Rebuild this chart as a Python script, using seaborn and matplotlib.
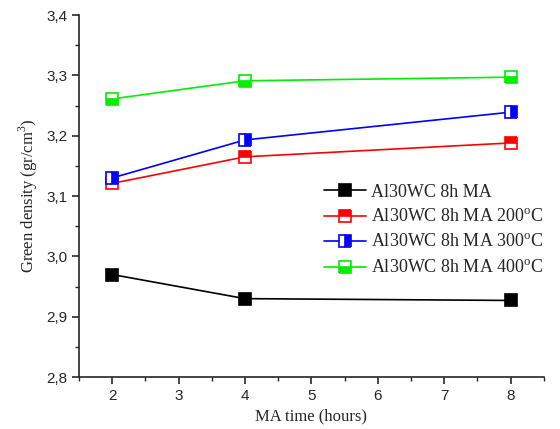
import numpy as np
import pandas as pd
import matplotlib
matplotlib.use('Agg')
import matplotlib.pyplot as plt
import seaborn as sns
from matplotlib.ticker import MultipleLocator, FuncFormatter

# data
ma_time = [2, 4, 8]
d_plain = [2.970, 2.930, 2.927]
d_200 = [3.121, 3.165, 3.188]
d_300 = [3.130, 3.193, 3.239]
d_400 = [3.261, 3.291, 3.297]
labels = ['Al30WC 8h MA', 'Al30WC 8h MA 200$^{\\rm o}$C',
          'Al30WC 8h MA 300$^{\\rm o}$C', 'Al30WC 8h MA 400$^{\\rm o}$C']
colors = ['black', 'red', 'blue', '#00ee00']
fills = ['full', 'top', 'right', 'bottom']

sns.set_style('ticks')
plt.rcParams['mathtext.fontset'] = 'custom'
plt.rcParams['mathtext.rm'] = 'Liberation Serif'

fig = plt.figure(figsize=(5.6, 4.29), dpi=100)
ax = fig.add_axes([0.141, 0.121, 0.830, 0.844])

for vals, lab, col, fs in zip([d_plain, d_200, d_300, d_400], labels, colors, fills):
    df = pd.DataFrame({'t': ma_time, 'd': vals})
    sns.lineplot(data=df, x='t', y='d', ax=ax, color=col, marker='s', label=lab,
                 markersize=9, linewidth=1.2)
    ln = ax.lines[-1]
    ln.set_fillstyle(fs)
    ln.set_markerfacecolor(col)
    ln.set_markerfacecoloralt('white')
    ln.set_markeredgecolor(col)
    ln.set_markeredgewidth(1.2)

ax.set_xlim(1.5, 8.5)
ax.set_ylim(2.8, 3.4)
ax.xaxis.set_major_locator(MultipleLocator(1))
ax.xaxis.set_minor_locator(MultipleLocator(0.5))
ax.yaxis.set_major_locator(MultipleLocator(0.1))
ax.yaxis.set_minor_locator(MultipleLocator(0.05))
ax.yaxis.set_major_formatter(FuncFormatter(lambda v, p: f'{v:.1f}'.replace('.', ',')))
ax.tick_params(which='major', direction='out', length=5, width=1.2, labelsize=11)
ax.tick_params(which='minor', direction='out', length=3, width=1.0)
for lab in ax.get_xticklabels() + ax.get_yticklabels():
    lab.set_fontfamily('Liberation Sans')
for s in ['left', 'bottom']:
    ax.spines[s].set_linewidth(1.2)
sns.despine(ax=ax)

ax.set_xlabel('MA time (hours)', family='Liberation Serif', fontsize=12)
ax.set_ylabel('Green density (gr/cm$^{\\rm 3}$)', family='Liberation Serif', fontsize=12)

leg = ax.legend(loc='upper left', bbox_to_anchor=(0.55, 0.61), bbox_transform=fig.transFigure,
                frameon=False, prop={'family': 'Liberation Serif', 'size': 13},
                handlelength=2.3, labelspacing=0.45, handletextpad=0.3)

fig.savefig('out.png', dpi=100)
